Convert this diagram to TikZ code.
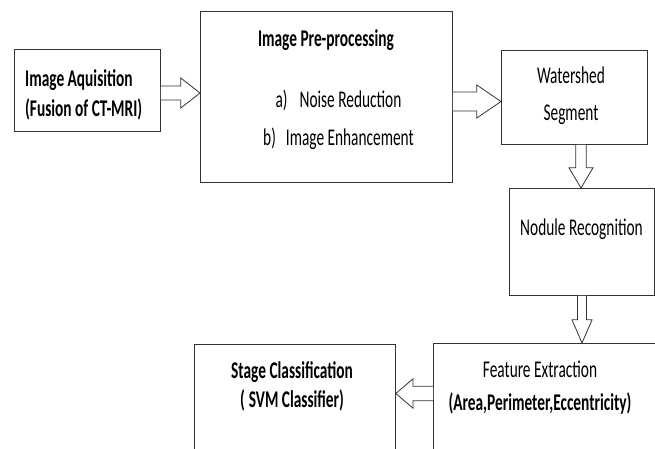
\documentclass[tikz,border=0pt]{standalone}
\usepackage{fontspec}
\setmainfont{Carlito}[FakeStretch=0.64]
\usetikzlibrary{positioning,calc}
\tikzset{
  box/.style={rectangle, draw=black!80, line width=0.8pt, fill=white,
              inner sep=0pt, anchor=north west},
  lbl/.style={inner sep=0pt, align=center, font=\fontsize{24}{30}\selectfont},
  lblb/.style={lbl, font=\fontsize{24}{30}\selectfont\bfseries},
  hollow/.style={draw=black!80, line width=0.8pt, fill=white, line join=miter}
}
\begin{document}
\begin{tikzpicture}[x=1pt,y=-1pt]
\useasboundingbox (0,0) rectangle (655,448);
\clip (0,0) rectangle (655,448);
\fill[white] (0,0) rectangle (655,448);
% ---- boxes ----
\node[box, minimum width=146pt, minimum height=82pt] (acq) at (14,49) {};
\node[box, minimum width=252pt, minimum height=171pt] (pre) at (200,11) {};
\node[box, minimum width=146pt, minimum height=94pt] (wat) at (501,50) {};
\node[box, minimum width=145pt, minimum height=107pt] (nod) at (509,188) {};
\node[box, minimum width=240pt, minimum height=130pt] (feat) at (433,343) {};
\node[box, minimum width=201pt, minimum height=130pt] (stage) at (194,344) {};
% ---- texts ----
\node[lblb, align=left, anchor=west] (acqtxt) at ([xshift=11pt]acq.west |- 0,95) {Image Aquisition\\(Fusion of CT-MRI)};
\node[lblb] (pretitle) at (326,40) {Image Pre-processing};
\node[lbl] (prelist) at (338.5,120) {a)\hspace{12pt}Noise Reduction\\[8pt]b)\hspace{10pt}Image Enhancement};
\node[lbl] (wattxt) at (571,95.5) {Watershed\\[7pt]Segment};
\node[lbl] (nodtxt) at (581.5,229) {Nodule Recognition};
\node[lbl] (feattxt) at (540,387.5) {Feature Extraction\\[3pt]\bfseries (Area,Perimeter,Eccentricity)};
\node[lblb] (stagetxt) at (292,386.5) {Stage Classification\\[-1pt](\,SVM Classifier)};
% ---- hollow arrows ----
\coordinate (a1) at (acq.east |- 0,93);
\draw[hollow] ($(a1)+(0,-7)$) -- ++(20,0) -- ++(0,-8) -- (a1 -| pre.west)
  -- ($(a1)+(20,15)$) -- ++(0,-8) -- ($(a1)+(0,7)$);
\coordinate (a2) at (pre.east |- 0,101.5);
\draw[hollow] ($(a2)+(0,-9.5)$) -- ++(24,0) -- ++(0,-7) -- (a2 -| wat.west)
  -- ($(a2)+(24,16.5)$) -- ++(0,-7) -- ($(a2)+(0,9.5)$);
\coordinate (a3) at (wat.south -| 581,0);
\draw[hollow] ($(a3)+(-5.3,0)$) -- ++(0,23) -- ++(-6.7,0) -- (a3 |- nod.north)
  -- ($(a3)+(12,23)$) -- ++(-6.7,0) -- ($(a3)+(5.3,0)$);
\coordinate (a4) at (nod.south -| 582,0);
\draw[hollow] ($(a4)+(-4.5,0)$) -- ++(0,24) -- ++(-5.5,0) -- (a4 |- feat.north)
  -- ($(a4)+(10,24)$) -- ++(-5.5,0) -- ($(a4)+(4.5,0)$);
\coordinate (a5) at (feat.west |- 0,393.5);
\draw[hollow] ($(a5)+(0,-7.2)$) -- ++(-20,0) -- ++(0,-7.5) -- (a5 -| stage.east)
  -- ($(a5)+(-20,14.7)$) -- ++(0,-7.5) -- ($(a5)+(0,7.2)$);
\end{tikzpicture}
\end{document}
